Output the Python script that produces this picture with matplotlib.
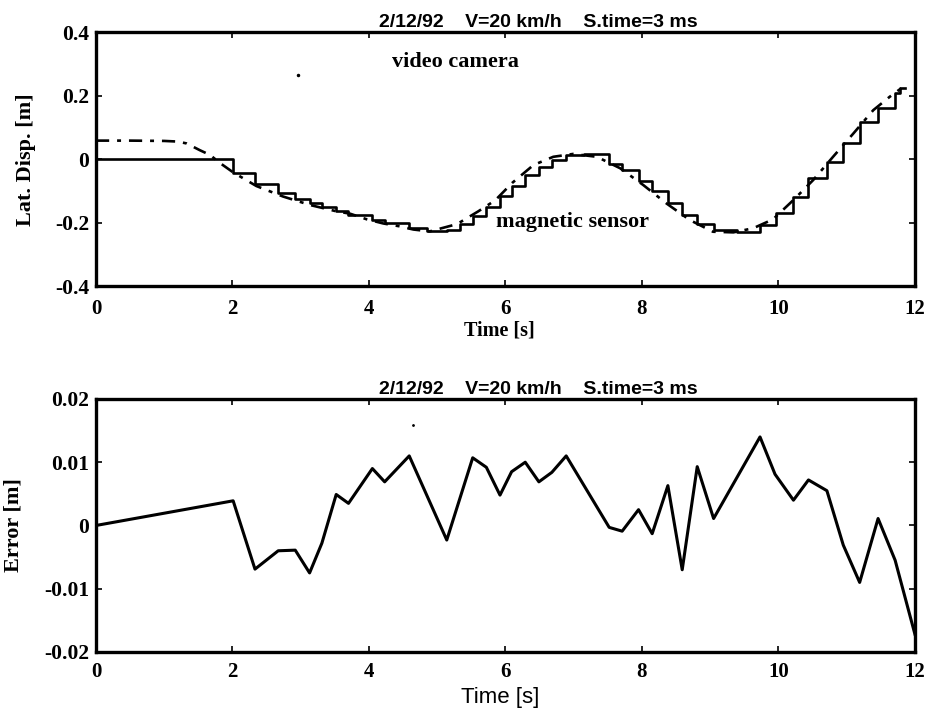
import numpy as np
import matplotlib.pyplot as plt

# video camera (dash-dot curve)
cam_t = [0, 0.5, 1.0, 1.2, 1.33, 1.52, 1.67, 1.82, 2.01, 2.35, 2.74, 3.14, 3.53,
         3.72, 3.97, 4.21, 4.45, 4.65, 4.89, 5.29, 5.60, 5.85, 6.10, 6.41, 6.70,
         6.99, 7.34, 7.68, 8.02, 8.36, 8.70, 9.04, 9.34, 9.63, 9.92, 10.22, 10.51,
         10.80, 11.10, 11.39, 11.63, 11.80]
cam_y = [0.058, 0.058, 0.057, 0.055, 0.049, 0.028, 0.013, -0.013, -0.042, -0.085,
         -0.118, -0.145, -0.165, -0.172, -0.190, -0.203, -0.212, -0.222, -0.228,
         -0.205, -0.165, -0.130, -0.075, -0.019, 0.007, 0.016, 0.007, -0.029,
         -0.082, -0.140, -0.192, -0.229, -0.231, -0.218, -0.190, -0.129, -0.066,
         0.007, 0.081, 0.154, 0.196, 0.223]

# magnetic sensor (sampled, step curve)
mag_t = [0, 2.01, 2.33, 2.67, 2.92, 3.13, 3.31, 3.52, 3.70, 4.05, 4.23, 4.59, 4.85,
         5.14, 5.33, 5.52, 5.72, 5.92, 6.09, 6.29, 6.49, 6.68, 6.89, 7.15, 7.52,
         7.71, 7.95, 8.15, 8.38, 8.59, 8.81, 9.05, 9.40, 9.73, 9.97, 10.22, 10.44,
         10.71, 10.95, 11.19, 11.46, 11.71, 11.78, 11.85]
mag_y = [0, -0.045, -0.080, -0.108, -0.125, -0.140, -0.152, -0.165, -0.175, -0.192,
         -0.203, -0.218, -0.226, -0.222, -0.205, -0.180, -0.150, -0.115, -0.085,
         -0.050, -0.025, -0.003, 0.012, 0.015, -0.015, -0.035, -0.070, -0.100,
         -0.140, -0.175, -0.205, -0.225, -0.230, -0.208, -0.171, -0.119, -0.061,
         -0.008, 0.049, 0.117, 0.160, 0.207, 0.223, 0.223]

# error between the two
err_t = [0, 2.01, 2.33, 2.67, 2.92, 3.13, 3.31, 3.52, 3.70, 4.05, 4.23, 4.59, 5.14,
         5.52, 5.72, 5.92, 6.09, 6.29, 6.49, 6.68, 6.89, 7.52, 7.71, 7.95, 8.15,
         8.38, 8.59, 8.81, 9.05, 9.73, 9.95, 10.22, 10.44, 10.71, 10.95, 11.19,
         11.46, 11.71, 12.0]
err_y = [0.0, 0.0039, -0.0069, -0.0040, -0.0039, -0.0075, -0.0028, 0.0049, 0.0035,
         0.0090, 0.0069, 0.0110, -0.0023, 0.0107, 0.0092, 0.0048, 0.0085, 0.0100,
         0.0069, 0.0084, 0.0110, -0.0003, -0.0009, 0.0025, -0.0013, 0.0063,
         -0.0070, 0.0093, 0.0011, 0.0140, 0.0081, 0.0040, 0.0072, 0.0055, -0.0031,
         -0.0090, 0.0011, -0.0055, -0.0172]

title = '2/12/92    V=20 km/h    S.time=3 ms'
xticks = [0, 2, 4, 6, 8, 10, 12]

serif = ['Liberation Serif', 'DejaVu Serif']
sans = ['Liberation Sans', 'DejaVu Sans']

fig = plt.figure(figsize=(9.3, 7.25), dpi=100)
ax1 = fig.add_axes([0.1032, 0.6055, 0.8806, 0.3503])
ax2 = fig.add_axes([0.1032, 0.1007, 0.8806, 0.3490])

for ax, xpad in ((ax1, 9.5), (ax2, 7)):
    for s in ax.spines.values():
        s.set_linewidth(2.4)
    ax.tick_params(direction='in', top=True, right=True, length=4, width=1.2)
    ax.tick_params(axis='x', labelsize=15, pad=xpad)
    ax.tick_params(axis='y', labelsize=15.5, pad=5)
    ax.set_xlim(0, 12)
    ax.set_xticks(xticks)
    for lab in ax.get_xticklabels():
        lab.set_fontfamily(serif)
        lab.set_fontweight('bold')
    ax.text(0.54, 1.004, title, transform=ax.transAxes, ha='center', va='bottom',
            fontsize=14, fontweight='bold', family=sans)

# top panel
ax1.plot(cam_t, cam_y, color='black', lw=1.9, ls=(0, (5, 3, 1.5, 3)))
ax1.plot(mag_t, mag_y, color='black', lw=1.9, drawstyle='steps-post')
ax1.plot([2.96], [0.265], 'k.', ms=3)
ax1.set_ylim(-0.4, 0.4)
ax1.set_yticks([-0.4, -0.2, 0, 0.2, 0.4])
ax1.set_yticklabels(['-0.4', '-0.2', '0', '0.2', '0.4'], family=serif, fontweight='bold')
ax1.text(4.34, 0.305, 'video camera', ha='left', va='center', fontsize=16,
         fontweight='bold', family=serif)
ax1.text(5.86, -0.197, 'magnetic sensor', ha='left', va='center', fontsize=16,
         fontweight='bold', family=serif)
ax1.set_xlabel('Time [s]', fontsize=14.5, fontweight='bold', family=serif)
ax1.set_ylabel('Lat. Disp. [m]', fontsize=16, fontweight='bold', family=serif)
ax1.xaxis.set_label_coords(0.493, -0.135)
ax1.yaxis.set_label_coords(-0.073, 0.496)

# bottom panel
ax2.plot(err_t, err_y, color='black', lw=2.2)
ax2.plot([4.65], [0.0159], 'k.', ms=2)
ax2.set_ylim(-0.02, 0.02)
ax2.set_yticks([-0.02, -0.01, 0, 0.01, 0.02])
ax2.set_yticklabels(['-0.02', '-0.01', '0', '0.01', '0.02'], family=serif, fontweight='bold')
ax2.set_xlabel('Time [s]', fontsize=16, family=sans)
ax2.set_ylabel('Error [m]', fontsize=16, fontweight='bold', family=serif)
ax2.xaxis.set_label_coords(0.493, -0.138)
ax2.yaxis.set_label_coords(-0.088, 0.5)

fig.savefig('out.png', dpi=100)
